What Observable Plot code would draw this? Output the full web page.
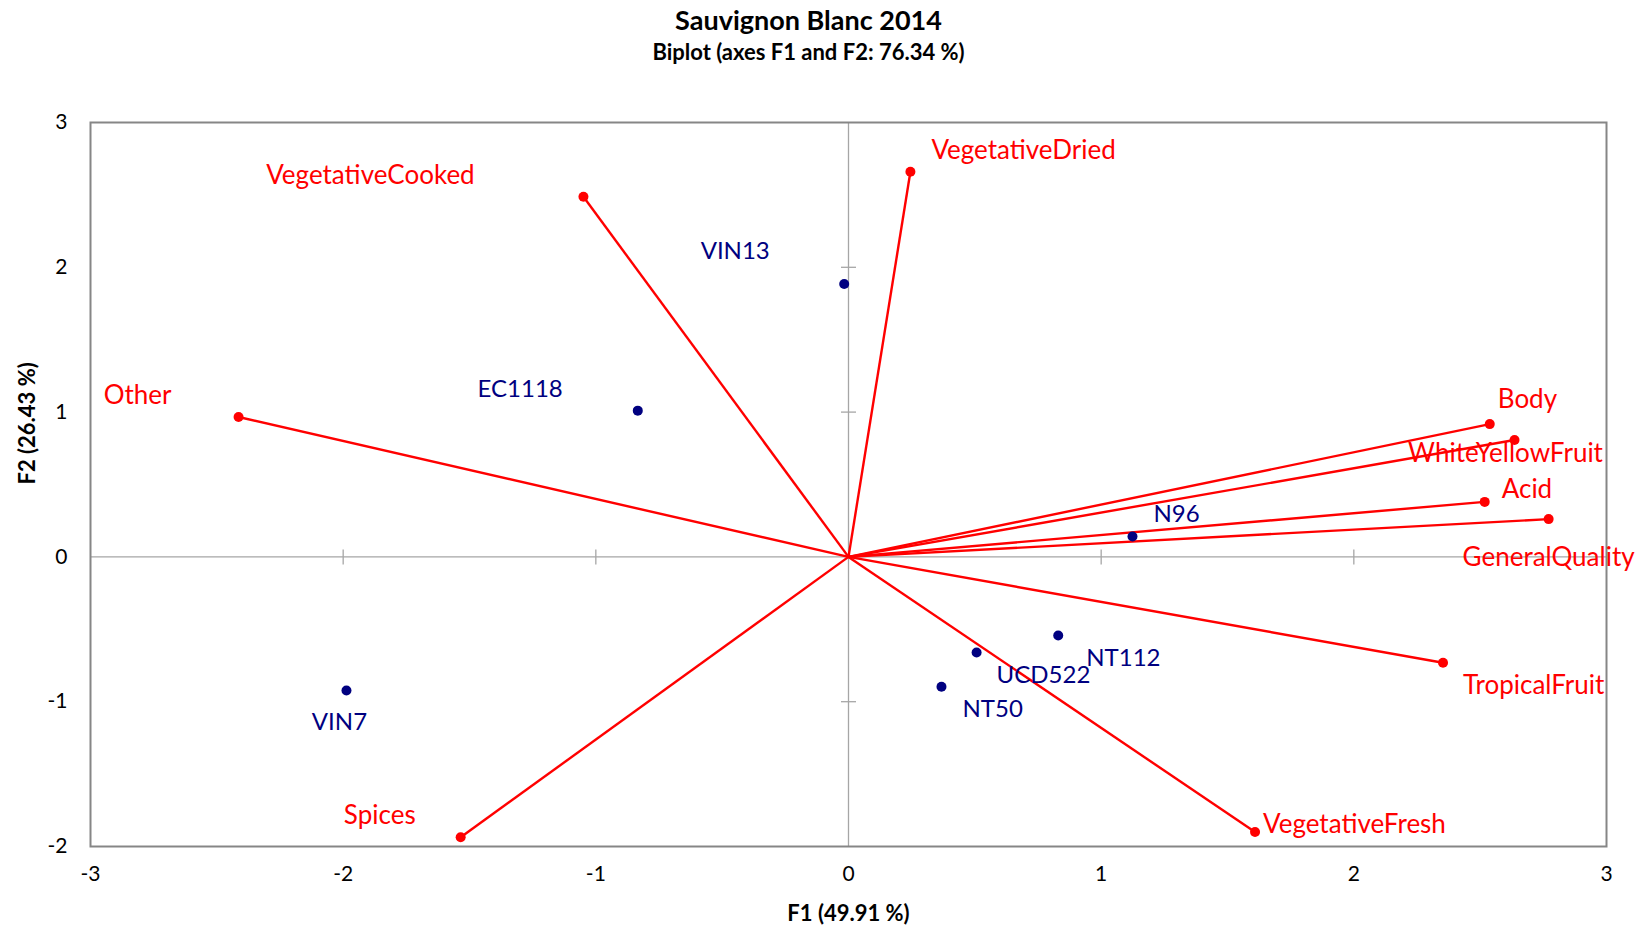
<!DOCTYPE html>
<html>
<head>
<meta charset="utf-8">
<script src="https://cdn.jsdelivr.net/npm/d3@7"></script>
<script src="https://cdn.jsdelivr.net/npm/@observablehq/plot@0.6"></script>
<style>
  body { margin: 0; background: #fff; font-family: Lato, "Open Sans", sans-serif; }
  #head { height: 70px; width: 1643px; text-align: center; position: relative; }
  #title { position: absolute; left: 0; right: 26px; top: 4px; font-weight: bold; font-size: 27px; color: #000; line-height: 32px; }
  #subtitle { position: absolute; left: 0; right: 26px; top: 39px; font-weight: bold; font-size: 22px; color: #000; line-height: 26px; }
  #chart svg { display: block; }
</style>
</head>
<body>
<div id="head">
  <div id="title">Sauvignon Blanc 2014</div>
  <div id="subtitle">Biplot (axes F1 and F2: 76.34 %)</div>
</div>
<div id="chart"></div>
<script>
// Variables (red vectors)
const variables = ["VegetativeCooked", "VegetativeDried", "Other", "Body", "WhiteYellowFruit", "Acid", "GeneralQuality", "TropicalFruit", "VegetativeFresh", "Spices"];
const variableF1 = [-1.049, 0.245, -2.414, 2.538, 2.636, 2.518, 2.771, 2.353, 1.609, -1.535];
const variableF2 = [2.487, 2.660, 0.966, 0.917, 0.807, 0.380, 0.261, -0.731, -1.900, -1.936];

// Observations (navy points)
const observations = ["VIN13", "EC1118", "N96", "NT112", "UCD522", "NT50", "VIN7"];
const observationF1 = [-0.017, -0.834, 1.124, 0.830, 0.507, 0.368, -1.987];
const observationF2 = [1.885, 1.010, 0.141, -0.543, -0.660, -0.897, -0.923];

// Tick labels
const xTicks = [-3, -2, -1, 0, 1, 2, 3];
const yTicks = [-2, -1, 0, 1, 2, 3];

const varData = variables.map((name, i) => ({name, x: variableF1[i], y: variableF2[i]}));
const obsData = observations.map((name, i) => ({name, x: observationF1[i], y: observationF2[i]}));

// Label placement (style: anchor and pixel offsets)
const labelStyle = {
  VegetativeCooked: ["middle", -213, -21],
  VegetativeDried: ["start", 21, -21],
  Other: ["end", -67, -21],
  Body: ["start", 8, -24],
  WhiteYellowFruit: ["middle", -9, 14],
  Acid: ["start", 17, -12],
  GeneralQuality: ["middle", 0, 39],
  TropicalFruit: ["start", 20, 23],
  VegetativeFresh: ["start", 8, -7],
  Spices: ["end", -45, -22],
  VIN13: ["middle", -109, -33],
  EC1118: ["end", -75, -21],
  N96: ["start", 21, -22],
  NT112: ["start", 28, 23],
  UCD522: ["start", 20, 23],
  NT50: ["start", 21, 23],
  VIN7: ["middle", -7, 32]
};

const RED = "#ff0000";
const NAVY = "#000080";
const GRID = "#a6a6a6";
const FRAME = "#868686";

const hTick = {draw(ctx, size) { const r = 7.5; ctx.moveTo(-r, 0); ctx.lineTo(r, 0); }};
const vTick = {draw(ctx, size) { const r = 7.5; ctx.moveTo(0, -r); ctx.lineTo(0, r); }};

function labelMarks(data, color, size) {
  return data.map(d => {
    const [anchor, dx, dy] = labelStyle[d.name];
    return Plot.text([d], {x: "x", y: "y", text: "name", fill: color, textAnchor: anchor, dx, dy,
      fontSize: size, fontFamily: "Lato"});
  });
}

const plot = Plot.plot({
  width: 1643,
  height: 856,
  marginLeft: 90,
  marginRight: 37,
  marginTop: 52,
  marginBottom: 80,
  style: {fontFamily: "Lato", background: "#fff", overflow: "visible"},
  x: {domain: [-3, 3]},
  y: {domain: [-2, 3]},
  marks: [
    Plot.ruleX([0], {stroke: GRID, strokeWidth: 1.3}),
    Plot.ruleY([0], {stroke: GRID, strokeWidth: 1.3}),
    Plot.dot(xTicks.filter(v => v !== 0 && Math.abs(v) < 3), {x: d => d, y: 0, symbol: vTick, stroke: GRID, strokeWidth: 1.3, r: 5}),
    Plot.dot(yTicks.filter(v => v !== 0 && v > -2 && v < 3), {x: 0, y: d => d, symbol: hTick, stroke: GRID, strokeWidth: 1.3, r: 5}),
    Plot.frame({stroke: FRAME, strokeWidth: 2}),
    Plot.axisX(xTicks, {anchor: "bottom", tickSize: 0, tickPadding: 20, fontSize: 21, fill: "#000",
      label: null, tickFormat: d => d < 0 ? "-" + Math.abs(d) : String(d)}),
    Plot.axisY(yTicks, {anchor: "left", tickSize: 0, tickPadding: 23, fontSize: 21, fill: "#000",
      label: null, tickFormat: d => d < 0 ? "-" + Math.abs(d) : String(d)}),
    Plot.text(["F1 (49.91 %)"], {frameAnchor: "bottom", dy: 74, fontWeight: "bold", fontSize: 22, fill: "#000"}),
    Plot.text(["F2 (26.43 %)"], {frameAnchor: "left", dx: -63, rotate: -90, fontWeight: "bold", fontSize: 22, fill: "#000"}),
    Plot.link(varData, {x1: 0, y1: 0, x2: "x", y2: "y", stroke: RED, strokeWidth: 2.4}),
    Plot.dot(varData, {x: "x", y: "y", r: 5, fill: RED}),
    Plot.dot(obsData, {x: "x", y: "y", r: 5, fill: NAVY}),
    ...labelMarks(varData, RED, 26),
    ...labelMarks(obsData, NAVY, 24)
  ]
});
document.getElementById("chart").appendChild(plot);
</script>
</body>
</html>
